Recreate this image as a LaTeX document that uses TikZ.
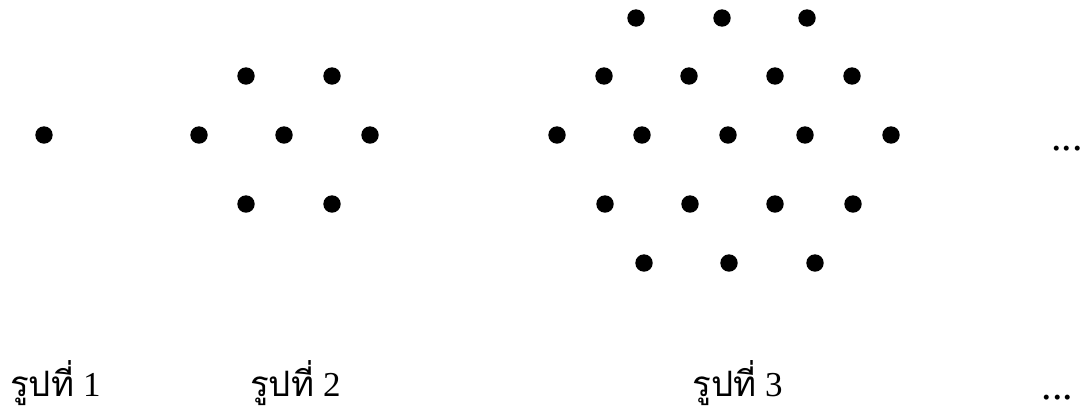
\documentclass[tikz,border=0pt]{standalone}
\usepackage{fontspec}
\setmainfont{Liberation Serif}
\newfontfamily\thaifont[Script=Thai]{Loma}
\usetikzlibrary{positioning}

\begin{document}
\begin{tikzpicture}[x=1pt, y=-1pt,
  dot/.style={circle, fill=black, inner sep=0pt, minimum size=17.4pt},
  caption/.style={anchor=base west, inner sep=0pt, font=\fontsize{35}{35}\selectfont},
  etc/.style={anchor=base west, inner sep=0pt, font=\fontsize{42}{42}\selectfont}
]
\useasboundingbox (0,0) rectangle (1081,410);
% figure 1
\node[dot] (one) at (44,135) {};
% figure 2
\foreach \x [count=\i] in {246,332} \node[dot] (twoA\i) at (\x,76) {};
\foreach \x [count=\i] in {199,284,370} \node[dot] (twoB\i) at (\x,135) {};
\foreach \x [count=\i] in {246,332} \node[dot] (twoC\i) at (\x,204) {};
% figure 3
\foreach \x [count=\i] in {636,722,807} \node[dot] (threeA\i) at (\x,18) {};
\foreach \x [count=\i] in {604,689,775,852} \node[dot] (threeB\i) at (\x,76) {};
\foreach \x [count=\i] in {557,642,728,805,891} \node[dot] (threeC\i) at (\x,135) {};
\foreach \x [count=\i] in {605,690,775,853} \node[dot] (threeD\i) at (\x,204) {};
\foreach \x [count=\i] in {644,729,815} \node[dot] (threeE\i) at (\x,263) {};
\node[etc] (moreTop) at (1051,150) {...};
% captions
\node[caption] (cap1) at (10,396) {{\thaifont รูปที่} 1};
\node[caption] (cap2) at (250,396) {{\thaifont รูปที่} 2};
\node[caption] (cap3) at (692,396) {{\thaifont รูปที่} 3};
\node[etc] (moreBot) at (1041.5,399.5) {...};
\end{tikzpicture}
\end{document}
